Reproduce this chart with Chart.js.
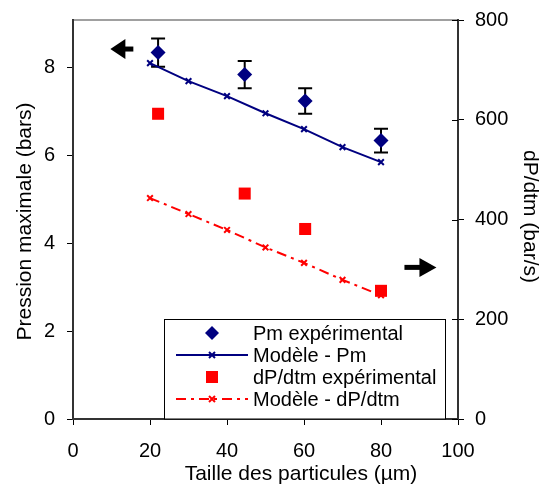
<!DOCTYPE html>
<html>
<head>
<meta charset="utf-8">
<script src="https://cdn.jsdelivr.net/npm/chart.js@4/dist/chart.umd.min.js"></script>
<style>
  html, body { margin: 0; padding: 0; background: #fff; }
  #wrap { width: 543px; height: 486px; }
</style>
</head>
<body>
<div id="wrap"><canvas id="chart" width="543" height="486"></canvas></div>
<script>
Chart.defaults.animation = false;

// --- Data ---
const modelSizes = [20, 30, 40, 50, 60, 70, 80];
const modelPm = [8.09, 7.68, 7.34, 6.95, 6.59, 6.18, 5.84];
const modelDpdt = [443, 411, 379, 344, 313, 279, 248];

const expSizes = [22.1, 44.6, 60.3, 80];
const expPm = [8.33, 7.83, 7.23, 6.33];
const expPmErr = [0.32, 0.31, 0.29, 0.27];
const expDpdt = [612, 452, 381, 257];

const xTicks = [0, 20, 40, 60, 80, 100];
const leftTicks = [0, 2, 4, 6, 8];
const rightTicks = [0, 200, 400, 600, 800];

const legendLabels = ['Pm expérimental', 'Modèle - Pm', 'dP/dtm expérimental', 'Modèle - dP/dtm'];
const xTitle = 'Taille des particules (µm)';
const leftTitle = 'Pression maximale (bars)';
const rightTitle = 'dP/dtm (bar/s)';

const FONT = '"Liberation Sans", Arial, sans-serif';
const NAVY = '#000080';
const RED = '#FF0000';
const RED_DASH = [10, 5, 3, 5];

const toPoints = (xs, ys) => xs.map((x, i) => ({ x: x, y: ys[i] }));

// --- Extra drawing: frame, error bars, arrows, titles, legend ---
const decorations = {
  id: 'decorations',
  beforeDraw(chart) {
    const { ctx, chartArea: a } = chart;
    ctx.save();
    ctx.strokeStyle = '#808080';
    ctx.lineWidth = 1.5;
    ctx.beginPath();
    ctx.moveTo(a.left, a.top);
    ctx.lineTo(a.right, a.top);
    ctx.stroke();
    ctx.restore();
  },
  beforeDatasetsDraw(chart) {
    const { ctx, scales } = chart;
    ctx.save();
    ctx.strokeStyle = '#000';
    ctx.lineWidth = 2;
    expSizes.forEach((s, i) => {
      const px = scales.x.getPixelForValue(s);
      const top = scales.y.getPixelForValue(expPm[i] + expPmErr[i]);
      const bot = scales.y.getPixelForValue(expPm[i] - expPmErr[i]);
      ctx.beginPath();
      ctx.moveTo(px, top); ctx.lineTo(px, bot);
      ctx.moveTo(px - 7, top); ctx.lineTo(px + 7, top);
      ctx.moveTo(px - 7, bot); ctx.lineTo(px + 7, bot);
      ctx.stroke();
    });
    ctx.restore();
  },
  afterDraw(chart) {
    const { ctx, chartArea: a, scales } = chart;
    ctx.save();

    // inner half of right axis ticks
    ctx.strokeStyle = '#000';
    ctx.lineWidth = 1;
    rightTicks.forEach(v => {
      const py = Math.round(scales.y1.getPixelForValue(v)) + 0.5;
      ctx.beginPath();
      ctx.moveTo(a.right - 6, py); ctx.lineTo(a.right, py);
      ctx.stroke();
    });

    // arrows pointing to each axis
    ctx.fillStyle = '#000';
    const lx = scales.x.getPixelForValue(9.7), ly = scales.y.getPixelForValue(8.41);
    ctx.beginPath();
    ctx.moveTo(lx, ly); ctx.lineTo(lx + 15, ly - 10); ctx.lineTo(lx + 15, ly + 10); ctx.closePath();
    ctx.fill();
    ctx.fillRect(lx + 14, ly - 2.5, 9, 5);
    const rx = scales.x.getPixelForValue(94.4), ry = scales.y1.getPixelForValue(304);
    ctx.beginPath();
    ctx.moveTo(rx, ry); ctx.lineTo(rx - 17, ry - 9.5); ctx.lineTo(rx - 17, ry + 9.5); ctx.closePath();
    ctx.fill();
    ctx.fillRect(rx - 32, ry - 2.5, 16, 5);

    // axis titles
    ctx.fillStyle = '#000';
    ctx.font = '21px ' + FONT;
    ctx.textAlign = 'center';
    ctx.textBaseline = 'middle';
    ctx.fillText(xTitle, 301, 474);
    ctx.save();
    ctx.translate(25, (a.top + a.bottom) / 2 + 2);
    ctx.rotate(-Math.PI / 2);
    ctx.fillText(leftTitle, 0, 0);
    ctx.restore();
    ctx.save();
    ctx.translate(530, (a.top + a.bottom) / 2 - 3);
    ctx.rotate(Math.PI / 2);
    ctx.fillText(rightTitle, 0, 0);
    ctx.restore();

    // legend box
    const bx = 164.5, by = 319.5, bw = 281, bh = a.bottom - 319.5;
    ctx.fillStyle = '#fff';
    ctx.fillRect(bx, by, bw, bh);
    ctx.strokeStyle = '#000';
    ctx.lineWidth = 1;
    ctx.strokeRect(bx, by, bw, bh);
    const rows = [333, 355, 377, 399];
    const mx = 212, l0 = 176, l1 = 248, tx = 253;
    // row 1: diamond
    ctx.fillStyle = NAVY;
    ctx.beginPath();
    ctx.moveTo(mx, rows[0] - 7); ctx.lineTo(mx + 7, rows[0]); ctx.lineTo(mx, rows[0] + 7); ctx.lineTo(mx - 7, rows[0]);
    ctx.closePath(); ctx.fill();
    // row 2: navy line with x
    ctx.strokeStyle = NAVY; ctx.lineWidth = 2;
    ctx.beginPath(); ctx.moveTo(l0, rows[1]); ctx.lineTo(l1, rows[1]); ctx.stroke();
    ctx.beginPath();
    ctx.moveTo(mx - 3, rows[1] - 3); ctx.lineTo(mx + 3, rows[1] + 3);
    ctx.moveTo(mx - 3, rows[1] + 3); ctx.lineTo(mx + 3, rows[1] - 3);
    ctx.stroke();
    // row 3: red square
    ctx.fillStyle = RED;
    ctx.fillRect(mx - 6, rows[2] - 6, 12, 12);
    // row 4: red dash-dot line with x
    ctx.strokeStyle = RED;
    ctx.setLineDash(RED_DASH);
    ctx.beginPath(); ctx.moveTo(l0, rows[3]); ctx.lineTo(l1, rows[3]); ctx.stroke();
    ctx.setLineDash([]);
    ctx.beginPath();
    ctx.moveTo(mx - 3, rows[3] - 3); ctx.lineTo(mx + 3, rows[3] + 3);
    ctx.moveTo(mx - 3, rows[3] + 3); ctx.lineTo(mx + 3, rows[3] - 3);
    ctx.stroke();
    // texts
    ctx.fillStyle = '#000';
    ctx.font = '20px ' + FONT;
    ctx.textAlign = 'left';
    ctx.textBaseline = 'middle';
    legendLabels.forEach((t, i) => ctx.fillText(t, tx, rows[i] + 1));

    ctx.restore();
  }
};

const tickFont = { family: FONT, size: 20 };

// keep the plot area fixed: no extra room for overhanging labels
const noOverhang = s => { s.paddingTop = 0; s.paddingBottom = 0; s.paddingLeft = 0; s.paddingRight = 0; };

new Chart(document.getElementById('chart').getContext('2d'), {
  type: 'scatter',
  data: {
    datasets: [
      {
        label: legendLabels[0],
        data: toPoints(expSizes, expPm),
        yAxisID: 'y',
        pointStyle: 'rectRot',
        pointRadius: 7.5,
        backgroundColor: NAVY,
        borderColor: NAVY,
        borderWidth: 0,
        showLine: false
      },
      {
        label: legendLabels[1],
        data: toPoints(modelSizes, modelPm),
        yAxisID: 'y',
        showLine: true,
        borderColor: NAVY,
        borderWidth: 2,
        pointStyle: 'crossRot',
        pointRadius: 4,
        pointBorderWidth: 2,
        pointBorderColor: NAVY,
        backgroundColor: NAVY
      },
      {
        label: legendLabels[2],
        data: toPoints(expSizes, expDpdt),
        yAxisID: 'y1',
        pointStyle: 'rect',
        pointRadius: 8.5,
        backgroundColor: RED,
        borderColor: RED,
        borderWidth: 0,
        showLine: false
      },
      {
        label: legendLabels[3],
        data: toPoints(modelSizes, modelDpdt),
        yAxisID: 'y1',
        showLine: true,
        borderColor: RED,
        borderWidth: 2,
        borderDash: RED_DASH,
        pointStyle: 'crossRot',
        pointRadius: 4,
        pointBorderWidth: 2,
        pointBorderColor: RED,
        backgroundColor: RED
      }
    ]
  },
  options: {
    responsive: false,
    layout: { padding: { top: 20, left: 0, right: 0, bottom: 0 } },
    plugins: {
      legend: { display: false },
      tooltip: { enabled: false }
    },
    scales: {
      x: {
        type: 'linear',
        min: 0,
        max: 100,
        afterBuildTicks: s => { s.ticks = xTicks.map(v => ({ value: v })); },
        afterFit: s => { s.height = 67; noOverhang(s); },
        ticks: { font: tickFont, color: '#000', padding: 14, maxRotation: 0 },
        grid: { drawOnChartArea: false, drawTicks: true, tickLength: 6, color: '#000', lineWidth: 1 },
        border: { display: true, color: '#333', width: 2 }
      },
      y: {
        type: 'linear',
        position: 'left',
        min: 0,
        max: 9.07,
        afterBuildTicks: s => { s.ticks = leftTicks.map(v => ({ value: v })); },
        afterFit: s => { s.width = 73; noOverhang(s); },
        ticks: { font: tickFont, color: '#000', padding: 12 },
        grid: { drawOnChartArea: false, drawTicks: true, tickLength: 6, color: '#000', lineWidth: 1 },
        border: { display: true, color: '#333', width: 2 }
      },
      y1: {
        type: 'linear',
        position: 'right',
        min: 0,
        max: 800,
        afterBuildTicks: s => { s.ticks = rightTicks.map(v => ({ value: v })); },
        afterFit: s => { s.width = 85; noOverhang(s); },
        ticks: { font: tickFont, color: '#000', padding: 11 },
        grid: { drawOnChartArea: false, drawTicks: true, tickLength: 6, color: '#000', lineWidth: 1 },
        border: { display: true, color: '#333', width: 2 }
      }
    }
  },
  plugins: [decorations]
});
</script>
</body>
</html>
